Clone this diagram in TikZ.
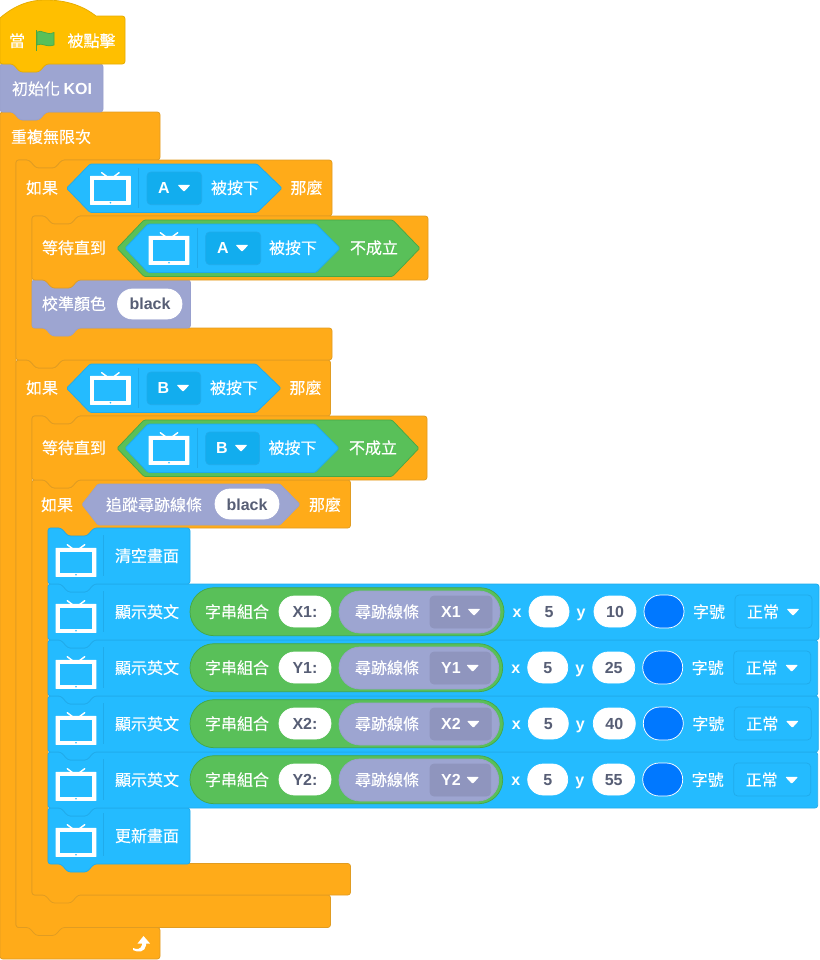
\documentclass[tikz,border=0pt]{standalone}
\usepackage{fontspec}
\newfontfamily\cjk[FakeBold=0.3]{Noto Sans CJK TC}
\newfontfamily\lat{Liberation Sans Bold}
\definecolor{orangeF}{HTML}{FFAB19}
\definecolor{orangeS}{HTML}{E09C22}
\definecolor{blueF}{HTML}{24BBFF}
\definecolor{blueS}{HTML}{20ABEB}
\definecolor{blueD}{HTML}{12ADEE}
\definecolor{purpF}{HTML}{9DA5D1}
\definecolor{purpS}{HTML}{98A0CE}
\definecolor{purpD}{HTML}{8F95BE}
\definecolor{greenF}{HTML}{59C059}
\definecolor{greenS}{HTML}{46A846}
\definecolor{hatF}{HTML}{FFBF00}
\definecolor{hatS}{HTML}{E6AC00}
\definecolor{inkT}{HTML}{575E75}
\definecolor{colorOval}{HTML}{0078FF}
\newcounter{tn}
\tikzset{
  blockline/.style={line width=.55pt,line join=round},
  cn/.style={anchor=base,inner sep=0pt,text=white,font=\cjk\fontsize{12pt}{12pt}\selectfont},
  lt/.style={anchor=base,inner sep=0pt,text=white,font=\lat\fontsize{12pt}{12pt}\selectfont},
  ov/.style={anchor=base,inner sep=0pt,text=inkT,font=\lat\fontsize{12pt}{12pt}\selectfont},
}
% text: x, y-centre, text
\newcommand\cnt[3]{\stepcounter{tn}\node[cn] (n\arabic{tn}) at ({#1},{#2+5.8}) {#3};}
\newcommand\ltt[3]{\stepcounter{tn}\node[lt] (n\arabic{tn}) at ({#1},{#2+5.8}) {#3};}
\newcommand\ovt[3]{\stepcounter{tn}\node[ov] (n\arabic{tn}) at ({#1},{#2+5.8}) {#3};}
% stack block: x, y0, xr, y1, fill, stroke
\newcommand\sblock[6]{\draw[blockline,fill=#5,draw=#6,rounded corners=2pt]
 (#1,#2) -- ({#1+13},#2) -- ({#1+20},{#2+8}) -- ({#1+39},{#2+8}) -- ({#1+46},#2) -- (#3,#2) -- (#3,#4)
 -- ({#1+46},#4) -- ({#1+39},{#4+8}) -- ({#1+20},{#4+8}) -- ({#1+13},#4) -- (#1,#4) -- cycle;}
% C block: x, y0, xr, y1, y2, xr2, y3
\newcommand\cblock[7]{\draw[blockline,fill=orangeF,draw=orangeS,rounded corners=2pt]
 (#1,#2) -- ({#1+13},#2) -- ({#1+20},{#2+8}) -- ({#1+39},{#2+8}) -- ({#1+46},#2) -- (#3,#2) -- (#3,#4)
 -- ({#1+62},#4) -- ({#1+55},{#4+8}) -- ({#1+36},{#4+8}) -- ({#1+29},#4) -- ({#1+16},#4) -- ({#1+16},#5) -- (#6,#5) -- (#6,#7)
 -- ({#1+46},#7) -- ({#1+39},{#7+8}) -- ({#1+20},{#7+8}) -- ({#1+13},#7) -- (#1,#7) -- cycle;}
% hexagon: xl, xtl, xtr, xr, yt, yb, fill, stroke
\newcommand\hexa[8]{\draw[blockline,fill=#7,draw=#8,rounded corners=1pt]
 (#1,{(#5+#6)/2}) -- (#2,#5) -- (#3,#5) -- (#4,{(#5+#6)/2}) -- (#3,#6) -- (#2,#6) -- cycle;}
% pill: x0,x1,y0,y1,fill,stroke
\newcommand\pill[6]{\pgfmathsetmacro\pillr{min(abs((#4)-(#3)),abs((#2)-(#1)))*0.375-0.01}\draw[blockline,fill=#5,draw=#6,rounded corners=\pillr pt] (#1,#3) rectangle (#2,#4);}
% dropdown box: x0,x1,y0,y1,fill,stroke
\newcommand\dbox[6]{\draw[blockline,fill=#5,draw=#6,rounded corners=3pt] (#1,#3) rectangle (#2,#4);}
% triangle: cx, cy
\newcommand\tri[2]{\fill[white,rounded corners=.8pt] ({#1-6.5},{#2-3.2}) -- ({#1+6.5},{#2-3.2}) -- ({#1},{#2+3.8}) -- cycle;}
% tv: cx, cy (frame -12..+16.7)
\newcommand\tvicon[2]{
 \draw[white,line width=1.1pt,line cap=round] ({#1-8.7},{#2-15.3}) -- ({#1-3.7},{#2-11.5}) ({#1+8.7},{#2-15.3}) -- ({#1+3.7},{#2-11.5});
 \fill[white,rounded corners=.4pt] ({#1-20.4},{#2-12.2}) rectangle ({#1+20.4},{#2+16.9});
 \fill[blueF] ({#1-16},{#2-7.8}) rectangle ({#1+16},{#2+12.5});
 \fill[blueF] ({#1},{#2+14.7}) circle[radius=.9];
}
\newcommand\sepl[3]{\draw[blueS,line width=.6pt] (#1,#2) -- (#1,#3);}
% keypress dropdown: x0,x1,cy,letterx,trix,letter
\newcommand\dropkey[6]{\dbox{#1}{#2}{#3-16}{#3+16.7}{blueD}{blueS}\ltt{#4}{#3}{#6}\tri{#5}{#3}}
% display row: cy, dx, label, key, yval
\newcommand\disprow[5]{
 \sblock{48}{#1-28}{819+#2}{#1+28}{blueF}{blueS}
 \tvicon{76}{#1+4}\sepl{103}{#1-21}{#1+20}
 \cnt{147}{#1}{顯示英文}
 \pill{190}{504+#2}{#1-24.3}{#1+23.7}{greenF}{greenS}
 \cnt{237}{#1}{字串組合}
 \pill{279}{331}{#1-16}{#1+15}{white}{white}
 \ovt{305}{#1}{#3}
 \pill{339}{500+#2}{#1-21}{#1+21}{purpF}{purpS}
 \cnt{387}{#1}{尋跡線條}
 \dbox{430}{492+#2}{#1-16}{#1+16}{purpD}{purpD}
 \ltt{451}{#1}{#4}\tri{474+#2}{#1}
 \ltt{517+#2}{#1}{x}
 \pill{529+#2}{569+#2}{#1-16}{#1+15}{white}{white}
 \ovt{549+#2}{#1}{5}
 \ltt{581+#2}{#1}{y}
 \pill{594+#2}{636+#2}{#1-16}{#1+15}{white}{white}
 \ovt{615+#2}{#1}{#5}
 \pill{644+#2}{684+#2}{#1-17}{#1+16}{colorOval}{white}
 \cnt{709+#2}{#1}{字號}
 \dbox{735+#2}{812+#2}{#1-17}{#1+16}{blueF}{blueS}
 \cnt{763+#2}{#1}{正常}\tri{793+#2}{#1}
}
\begin{document}
\begin{tikzpicture}[x=.75pt,y=-.75pt]
\fill[white] (0,0) rectangle (820,960);
\useasboundingbox (0,0) rectangle (820,960);
% ---- forever
\draw[blockline,fill=orangeF,draw=orangeS,rounded corners=2pt]
 (0,112) -- (13,112) -- (20,120) -- (39,120) -- (46,112) -- (160,112) -- (160,160)
 -- (62,160) -- (55,168) -- (36,168) -- (29,160) -- (16,160) -- (16,927.5) -- (160,927.5) -- (160,959) -- (0,959) -- cycle;
% ---- if B
\cblock{16}{360}{330.5}{416}{895}{330.5}{927.5}
% ---- if track
\cblock{32}{480}{350.5}{528}{863.5}{350.5}{895}
% ---- display blocks (bottom first)
\sblock{48}{808}{190}{864}{blueF}{blueS}
\tvicon{76}{840}\sepl{103}{813}{856}
\cnt{147}{836}{更新畫面}
\disprow{780}{-1.3}{Y2:}{Y2}{55}
\disprow{724}{-.7}{X2:}{X2}{40}
\disprow{668}{-1.3}{Y1:}{Y1}{25}
\disprow{612}{0}{X1:}{X1}{10}
\sblock{48}{528}{190}{584}{blueF}{blueS}
\tvicon{76}{560}\sepl{103}{535}{576}
\cnt{147}{556}{清空畫面}
% text of if-track
\cnt{57}{505}{如果}
\hexa{82}{98}{280}{300}{484}{525}{purpF}{purpS}
\cnt{154}{505}{追蹤尋跡線條}
\pill{215}{279}{489}{519}{white}{white}
\ovt{247}{504.5}{black}
\cnt{325}{505}{那麼}
% ---- wait B
\sblock{32}{416}{427}{480}{orangeF}{orangeS}
\cnt{74}{448}{等待直到}
\hexa{117}{144}{392}{419}{420}{476.5}{greenF}{greenS}
\hexa{125}{148}{315}{339}{424}{472.5}{blueF}{blueS}
\tvicon{169}{448}\sepl{197}{428}{468}
\dropkey{205.7}{259.5}{448}{222}{241}{B}
\cnt{292.5}{448}{被按下}
\cnt{373}{448}{不成立}
% head of if B
\cnt{42}{388}{如果}
\hexa{66.5}{90}{256}{281}{364}{412.5}{blueF}{blueS}
\tvicon{110.4}{388}\sepl{138.5}{368}{408}
\dropkey{147}{200.7}{388}{163.5}{183}{B}
\cnt{234}{388}{被按下}
\cnt{305.5}{388}{那麼}
% ---- if A
\cblock{16}{160}{332}{216}{328}{332}{360}
% calibrate
\sblock{32}{280}{190.5}{328}{purpF}{purpS}
\cnt{74}{304}{校準顏色}
\pill{117.5}{182}{289}{319}{white}{white}
\ovt{150}{304}{black}
% wait A
\sblock{32}{216}{428}{280}{orangeF}{orangeS}
\cnt{74}{248}{等待直到}
\hexa{117}{144}{392.7}{420}{220}{276.5}{greenF}{greenS}
\hexa{125}{148}{316}{340}{224}{272.5}{blueF}{blueS}
\tvicon{169}{248}\sepl{197}{228}{268}
\dropkey{205.7}{260.7}{248}{223}{242}{A}
\cnt{293}{248}{被按下}
\cnt{374}{248}{不成立}
% head of if A
\cnt{42}{188}{如果}
\hexa{66.5}{90}{257}{282}{164}{212.5}{blueF}{blueS}
\tvicon{110.4}{188}\sepl{138.5}{168}{208}
\dropkey{147}{201.7}{188}{164}{184}{A}
\cnt{235}{188}{被按下}
\cnt{306.5}{188}{那麼}
% forever text and arrow
\cnt{51}{137}{重複無限次}
\fill[white] (133,948) .. controls (137,950) and (141,949) .. (142,945) -- (142,943.5) -- (137.5,943.5) -- (143.5,936) -- (150,943.5) -- (146,943.5) -- (146,945.5)
 .. controls (145,952) and (138,953) .. (133,950) -- cycle;
% ---- init
\sblock{0}{64}{103}{112}{purpF}{purpS}
\stepcounter{tn}\node[cn] (n\arabic{tn}) at (52,94.8) {初始化 {\lat KOI}};
% ---- hat
\draw[blockline,fill=hatF,draw=hatS]
 (0,62) -- (0,18) .. controls (15,5) and (30,0) .. (45,0) .. controls (65,0) and (82,5) .. (96,16) -- (122,16) [rounded corners=2pt] -- (125,16) -- (125,64)
 -- (46,64) -- (39,72) -- (20,72) -- (13,64) -- (0,64) -- cycle;
\cnt{17}{41}{當}
\draw[greenS,line width=1.2pt] (36.5,30) -- (36.5,50.5);
\draw[fill=greenF,draw=greenS,line width=.5pt] (37,32) .. controls (42,29) and (46,36) .. (54,32.5) -- (54,45) .. controls (46,48) and (42,42) .. (37,45) -- cycle;
\cnt{91.5}{41}{被點擊}
\end{tikzpicture}
\end{document}
